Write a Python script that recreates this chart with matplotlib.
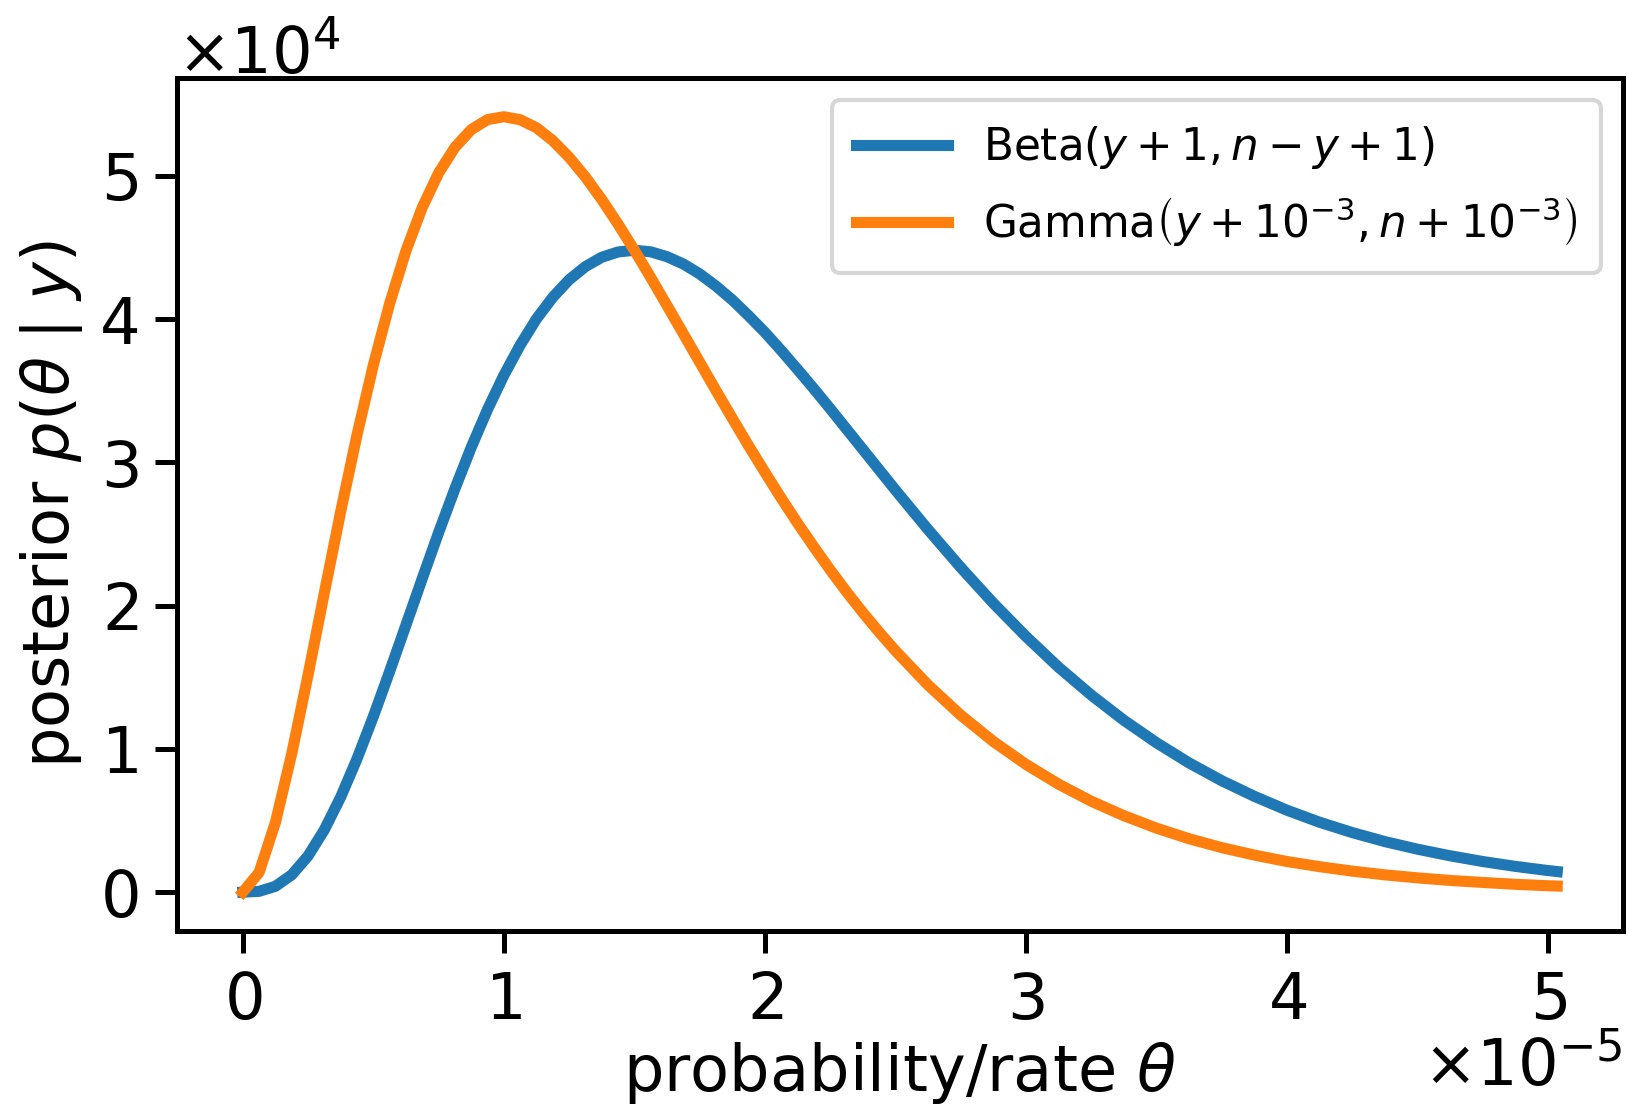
import numpy as np
from matplotlib import pyplot as plt


# theta grid in units of 1e-5, densities in units of 1e4
theta = [0.0, 0.0625, 0.125, 0.1875, 0.25, 0.3125, 0.375, 0.4375, 0.5, 0.5625,
         0.625, 0.6875, 0.75, 0.8125, 0.875, 0.9375, 1.0, 1.0625, 1.125, 1.1875,
         1.25, 1.3125, 1.375, 1.4375, 1.5, 1.5625, 1.625, 1.6875, 1.75, 1.8125,
         1.875, 1.9375, 2.0, 2.0625, 2.125, 2.1875, 2.25, 2.3125, 2.375, 2.4375,
         2.5,
         2.625, 2.75, 2.875, 3.0, 3.125, 3.25, 3.375, 3.5, 3.625, 3.75,
         3.875, 4.0, 4.125, 4.25, 4.375, 4.5, 4.625, 4.75, 4.875, 5.0,
         5.035]

beta_post = [0.0, 0.006, 0.041, 0.121, 0.253, 0.436, 0.664, 0.931, 1.226, 1.541,
             1.865, 2.190, 2.510, 2.816, 3.105, 3.370, 3.608, 3.819, 4.002, 4.153,
             4.275, 4.367, 4.432, 4.469, 4.481, 4.470, 4.436, 4.385, 4.316, 4.231,
             4.134, 4.024, 3.908, 3.781, 3.649, 3.514, 3.375, 3.233, 3.091, 2.949,
             2.807,
             2.531, 2.267, 2.017, 1.785, 1.570, 1.376, 1.200, 1.043, 0.902, 0.778,
             0.669, 0.572, 0.488, 0.416, 0.353, 0.300, 0.254, 0.214, 0.180, 0.151,
             0.144]

gamma_post = [0.0, 0.138, 0.487, 0.967, 1.516, 2.091, 2.657, 3.192, 3.679, 4.109,
              4.477, 4.780, 5.020, 5.199, 5.323, 5.393, 5.413, 5.392, 5.336, 5.246,
              5.130, 4.992, 4.835, 4.663, 4.481, 4.291, 4.095, 3.898, 3.700, 3.502,
              3.308, 3.116, 2.931, 2.750, 2.576, 2.410, 2.250, 2.097, 1.952, 1.815,
              1.685,
              1.446, 1.236, 1.052, 0.892, 0.754, 0.635, 0.534, 0.447, 0.373, 0.311,
              0.259, 0.214, 0.178, 0.147, 0.121, 0.100, 0.082, 0.068, 0.055, 0.045,
              0.043]

labels = [r'Beta$(y+1, n-y+1)$', r'Gamma$\left(y+10^{-3}, n+10^{-3}\right)$']

x = np.array(theta) * 1e-5

plt.rcParams['font.family'] = 'DejaVu Sans'
plt.rcParams['mathtext.fontset'] = 'dejavusans'

fig = plt.figure(figsize=(16.29, 11.12), dpi=100)
ax = fig.add_axes([0.1087, 0.1628, 0.8876, 0.7671])

ax.plot(x, np.array(beta_post) * 1e4, color='#1f77b4', lw=8, label=labels[0])
ax.plot(x, np.array(gamma_post) * 1e4, color='#ff7f0e', lw=8, label=labels[1])

ax.set_xticks(np.arange(0, 6) * 1e-5)
ax.set_yticks(np.arange(0, 6) * 1e4)
ax.ticklabel_format(style='sci', axis='both', scilimits=(0, 0), useMathText=True)
ax.tick_params(labelsize=46, length=16, width=3.6, pad=12)
ax.xaxis.get_offset_text().set_fontsize(46)
ax.yaxis.get_offset_text().set_fontsize(46)
for s in ax.spines.values():
    s.set_linewidth(3.6)

ax.set_xlabel(r'probability/rate $\theta$', fontsize=46, labelpad=6)
ax.set_ylabel(r'posterior $p(\theta\mid y)$', fontsize=46, labelpad=10)

leg = ax.legend(loc='upper right', fontsize=31.5, handlelength=2.1,
                borderpad=0.55, labelspacing=0.55)
leg.get_frame().set_linewidth(3)

fig.savefig('out.png', dpi=100)
